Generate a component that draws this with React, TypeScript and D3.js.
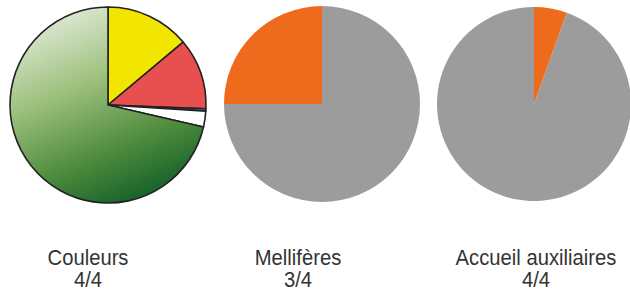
import React from 'react';
import * as d3 from 'd3';

// slice values per pie, clockwise from 12 o'clock
const couleursNames = ['Jaune', 'Rouge', 'Bleu', 'Blanc', 'Vert'];
const couleursValues = [13.9, 11.7, 0.4, 2.6, 71.4];
const melliferesNames = ['Non', 'Oui'];
const melliferesValues = [75, 25];
const accueilNames = ['Oui', 'Non'];
const accueilValues = [5.5, 94.5];

const titles = ['Couleurs', 'Mellifères', 'Accueil auxiliaires'];
const scores = ['4/4', '3/4', '4/4'];

const W = 630;
const H = 293;

type PieSpec = {
  names: string[];
  values: number[];
  colors: string[];
  cx: number;
  cy: number;
  r: number;
  stroke: boolean;
  labelX: number;
};

const pies: PieSpec[] = [
  {
    names: couleursNames,
    values: couleursValues,
    colors: ['#f2e600', '#e84f4f', '#4a7cc4', '#ffffff', 'url(#greenGrad)'],
    cx: 108, cy: 105, r: 98, stroke: true, labelX: 88,
  },
  {
    names: melliferesNames,
    values: melliferesValues,
    colors: ['#9c9c9c', '#ee6a1c'],
    cx: 322, cy: 104, r: 98, stroke: false, labelX: 298,
  },
  {
    names: accueilNames,
    values: accueilValues,
    colors: ['#ee6a1c', '#9c9c9c'],
    cx: 534, cy: 104, r: 97, stroke: false, labelX: 536,
  },
];

const PieChart = ({ spec }: { spec: PieSpec }) => {
  const pie = d3.pie<number>().sort(null).value(d => d);
  const arc = d3.arc<d3.PieArcDatum<number>>().innerRadius(0).outerRadius(spec.r);
  const arcs = pie(spec.values);
  return (
    <g transform={`translate(${spec.cx},${spec.cy})`}>
      {arcs.map((a, i) => (
        <path
          key={spec.names[i]}
          d={arc(a) || ''}
          fill={spec.colors[i]}
          stroke={spec.stroke ? '#222' : 'none'}
          strokeWidth={spec.stroke ? 1.6 : 0}
          strokeLinejoin="round"
        />
      ))}
    </g>
  );
};

export default function App() {
  return (
    <svg width={W} height={H} style={{ position: 'absolute', left: 0, top: 0 }}>
      <defs>
        {/* coordinates are relative to the first pie's centre */}
        <linearGradient id="greenGrad" gradientUnits="userSpaceOnUse" x1="-70" y1="-90" x2="10" y2="98">
          <stop offset="0" stopColor="#e3ecda" />
          <stop offset="0.4" stopColor="#9dc07c" />
          <stop offset="0.75" stopColor="#4f8c3e" />
          <stop offset="1" stopColor="#1b662b" />
        </linearGradient>
      </defs>
      <rect width={W} height={H} fill="#ffffff" />
      {pies.map((p, i) => (
        <PieChart key={titles[i]} spec={p} />
      ))}
      {pies.map((p, i) => (
        <g
          key={'lab' + i}
          transform={`translate(${p.labelX},0) scale(0.92,1)`}
          fontFamily="'Liberation Sans', Arial, sans-serif"
          fontSize={22}
          fill="#333"
          textAnchor="middle"
        >
          <text x={0} y={265}>{titles[i]}</text>
          <text x={0} y={287}>{scores[i]}</text>
        </g>
      ))}
    </svg>
  );
}
